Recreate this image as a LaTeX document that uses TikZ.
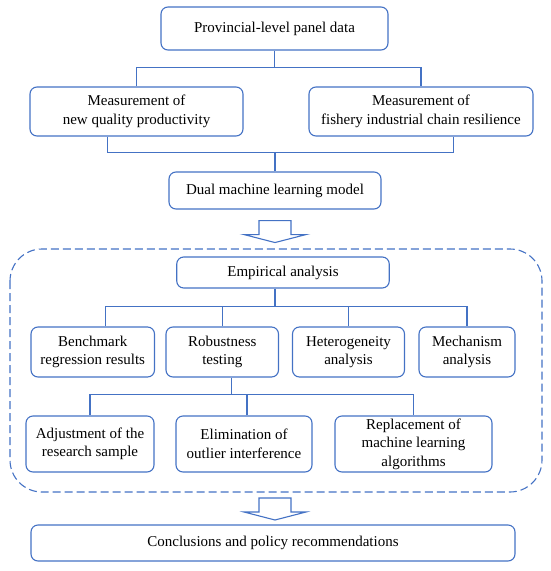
\documentclass[tikz,border=0pt]{standalone}
\usepackage{fontspec}
\setmainfont{Liberation Serif}
\usetikzlibrary{calc}
\definecolor{lineblue}{RGB}{68,114,196}
\tikzset{
  box/.style={draw=lineblue, line width=1.1pt, rounded corners=7pt, align=center,
    inner sep=0pt, font=\fontsize{15}{18.5}\selectfont},
  link/.style={draw=lineblue, line width=1.1pt},
  hollow/.pic={\draw[link, line join=miter] (-16,0) -- (16,0) -- (16,-14) -- (31,-14)
    -- (0,-22) -- (-31,-14) -- (-16,-14) -- cycle;}
}

\begin{document}
\begin{tikzpicture}[x=1pt, y=1pt]
  \useasboundingbox (0,0) rectangle (550,-571);
  % top part
  \node[box, minimum width=227pt, minimum height=43pt] (data) at (274.5,-28.5) {Provincial-level panel data};
  \node[box, minimum width=213pt, minimum height=49pt] (nqp) at (136.5,-111.5) {Measurement of\\new quality productivity};
  \node[box, minimum width=224pt, minimum height=49pt] (resil) at (421,-111.5) {Measurement of\\fishery industrial chain resilience};
  \node[box, minimum width=212pt, minimum height=37pt] (dml) at (275,-190.5) {Dual machine learning model};
  \draw[link] (data.south) -- ++(0,-17) coordinate (j1);
  \draw[link] (nqp.north) |- (j1) -| (resil.north);
  \draw[link] (dml.north) -- ++(0,19) coordinate (j2);
  \draw[link] ([xshift=-29pt]nqp.south) |- (j2) -| ([xshift=32.5pt]resil.south);
  \path (dml.south) ++(0,-11) pic {hollow};

  % empirical part
  \draw[lineblue, line width=1.1pt, dash pattern=on 8pt off 4pt, rounded corners=32pt] (10,-249) rectangle (542,-492);
  \node[box, minimum width=212.5pt, minimum height=31pt] (emp) at (283,-272.5) {Empirical analysis};
  \node[box, minimum width=123.5pt, minimum height=50pt] (bench) at (92.75,-352) {Benchmark\\regression results};
  \node[box, minimum width=112.5pt, minimum height=50pt] (robust) at (222.25,-352) {Robustness\\testing};
  \node[box, minimum width=112pt, minimum height=50pt] (hetero) at (348.5,-352) {Heterogeneity\\analysis};
  \node[box, minimum width=96pt, minimum height=50pt] (mech) at (467,-352) {Mechanism\\analysis};
  \draw[link] ([xshift=-8pt]emp.south) -- ++(0,-18) coordinate (j3);
  \draw[link] ([xshift=13pt]bench.north) |- (j3) -| (mech.north);
  \draw[link] (robust.north) -- (robust.north |- j3);
  \draw[link] (hetero.north) -- (hetero.north |- j3);

  \node[box, minimum width=128pt, minimum height=56pt] (adjust) at (90,-444) {Adjustment of the\\research sample};
  \node[box, minimum width=136pt, minimum height=56pt] (elim) at (244,-444) {Elimination of\\outlier interference};
  \node[box, minimum width=157pt, minimum height=56pt] (repl) at (413.5,-444) {Replacement of\\machine learning\\algorithms};
  \draw[link] ([xshift=9.5pt]robust.south) -- ++(0,-17) coordinate (j4);
  \draw[link] (adjust.north) |- (j4) -| (repl.north);
  \draw[link] ([xshift=3pt]elim.north) -- ([xshift=3pt]elim.north |- j4);

  % conclusion
  \path (275,-498) pic {hollow};
  \node[box, minimum width=484pt, minimum height=36pt] (concl) at (273,-543) {Conclusions and policy recommendations};
\end{tikzpicture}
\end{document}
